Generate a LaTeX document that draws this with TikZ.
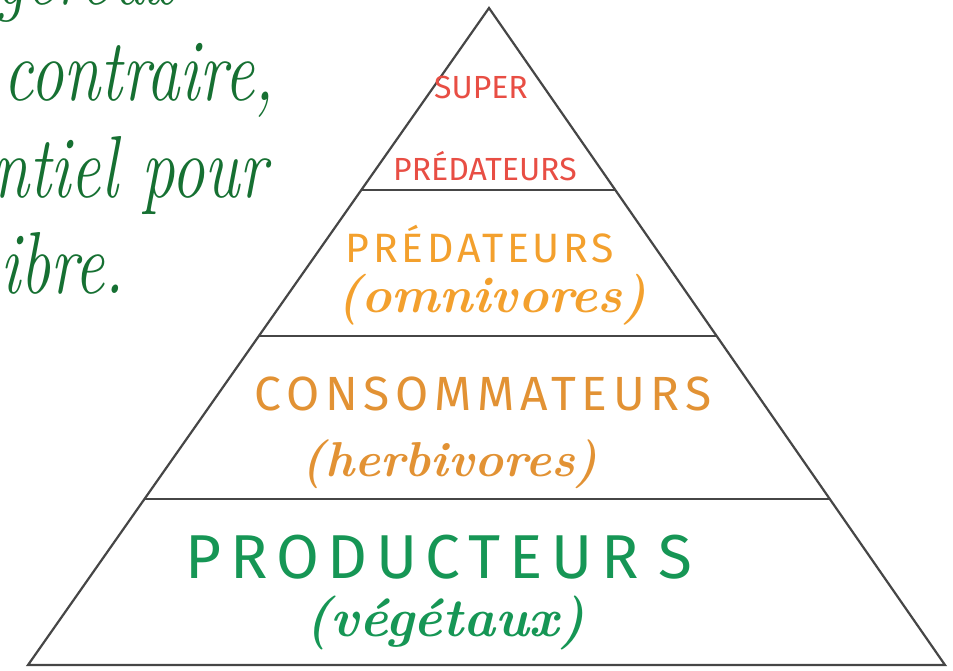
\documentclass[tikz,border=0pt]{standalone}
\usepackage{fontspec}
\usepackage{graphicx}
\usetikzlibrary{calc}
\newfontfamily\handcaps{Fira Sans}
\newcommand{\spaced}[2]{{\addfontfeatures{LetterSpace=#1}#2}}
\definecolor{pyrgray}{RGB}{70,70,70}
\definecolor{superred}{RGB}{232,78,68}
\definecolor{predorange}{RGB}{243,160,45}
\definecolor{consorange}{RGB}{226,146,52}
\definecolor{prodgreen}{RGB}{22,150,85}
\definecolor{textgreen}{RGB}{22,112,50}
\tikzset{
  tier/.style = {draw = pyrgray, line width = 1.1pt, line join = miter},
  caps/.style = {inner sep = 0pt, font = \handcaps},
  lower/.style = {inner sep = 0pt, font = \bfseries\itshape},
  prose/.style = {inner sep = 0pt, anchor = base west, text = textgreen}
}
\newcommand{\prosefont}[1]{\scalebox{0.76}[1]{\fontsize{44}{48}\selectfont\itshape #1}}
\begin{document}
\begin{tikzpicture}[x = 0.5pt, y = -0.5pt]
\useasboundingbox (0,0) rectangle (953,670);

\node[prose] (prose1) at (-5,4) {\prosefont{gereux}};
\node[prose] (prose2) at (3,100) {\prosefont{contraire,}};
\node[prose] (prose3) at (-8,197) {\prosefont{ntiel pour}};
\node[prose] (prose4) at (0,293) {\prosefont{ibre.}};

\coordinate (apex) at (489,8);
\coordinate (bl) at (28,665);
\coordinate (br) at (945,665);
\draw[tier] (bl) -- (apex) -- (br) -- cycle;

\foreach \y in {190,336,499}
   \draw[tier] ($(apex)!{(\y-8)/657}!(bl)$) -- ($(apex)!{(\y-8)/657}!(br)$);

\node[caps, text = superred, font = \handcaps\fontsize{16}{18}\selectfont] (super) at (481,87) {SUPER};
\node[caps, text = superred, font = \handcaps\fontsize{16}{18}\selectfont] (superpred) at (485,166) {PRÉDATEURS};

\node[caps, text = predorange, font = \handcaps\fontsize{20.5}{22}\selectfont] (pred) at (480,244) {\spaced{9}{PRÉDATEURS}};
\node[lower, text = predorange, font = \bfseries\itshape\fontsize{25.5}{28}\selectfont] (omni) at (492,300) {(omnivores)};

\node[caps, text = consorange, font = \handcaps\fontsize{24}{26}\selectfont] (cons) at (483,394) {\spaced{12}{CONSOMMATEURS}};
\node[lower, text = consorange, font = \bfseries\itshape\fontsize{24.5}{27}\selectfont] (herb) at (450,464) {(herbivores)};

\node[caps, text = prodgreen, font = \handcaps\fontsize{31}{34}\selectfont] (prod) at (439,557) {\spaced{14}{PRODUCTEUR}\hspace{10pt}S};
\node[lower, text = prodgreen, font = \bfseries\itshape\fontsize{27}{29}\selectfont] (veg) at (445,623) {(végétaux)};
\end{tikzpicture}
\end{document}
